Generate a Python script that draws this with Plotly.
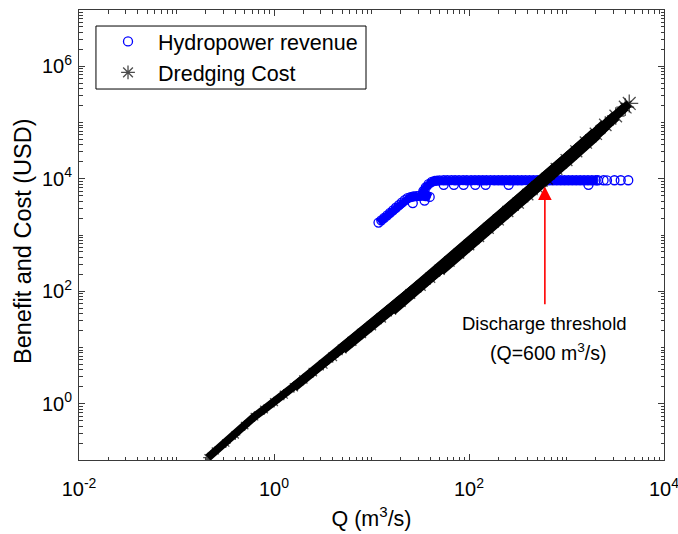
import math
import numpy as np
import plotly.graph_objects as go

# ---- Dredging cost against discharge ----
dredge_q = [0.21, 0.25, 0.32, 0.4, 0.5, 0.63, 0.79, 1.0, 1.26, 1.6, 2.0, 2.5, 3.2, 4.0,
            5.0, 6.3, 7.9, 10, 12.6, 16, 20, 25, 32, 40, 50, 63, 79, 100, 126, 158, 200,
            250, 320, 400, 500, 630, 790, 1000, 1260, 1580, 2000, 2500, 3200, 4000, 4400]
dredge_cost = [0.11, 0.145, 0.20, 0.28, 0.41, 0.59, 0.79, 1.07, 1.45, 1.97, 2.7, 3.66,
               5.0, 6.85, 9.4, 12.9, 17.7, 24.4, 33.7, 46.6, 64.6, 89.6, 125, 174, 242,
               338, 473, 664, 932, 1310, 1850, 2610, 3690, 5240, 7080, 10000, 15000,
               21500, 30700, 44000, 63000, 90700, 130500, 188000, 218000]

# ---- Hydropower revenue against discharge (main band) ----
hydro_q = [11.8, 12.6, 13.5, 14.5, 15.5, 16.6, 17.8, 19.1, 20.4, 21.9, 23.4, 25.1, 26.9,
           28.8, 30.9, 33.1, 36.0, 39.5, 34.0, 36.0, 38.5, 41.5, 44.5,
           47, 50, 55, 60, 66, 72, 79, 87, 95, 105, 115, 126, 138, 151, 166, 182, 200,
           219, 240, 263, 288, 316, 347, 380, 417, 457, 501, 550, 603, 661, 724, 794,
           871, 955, 1047, 1148, 1259, 1380, 1514, 1660, 1820, 1995, 2100]
hydro_rev = [1660, 1820, 2020, 2240, 2480, 2750, 3050, 3390, 3760, 4170, 4520, 4730, 4840,
             4900, 4950, 5010, 4900, 4750, 6000, 7000, 8000, 8800, 9200,
             9250, 9350, 9400, 9400, 9450, 9400, 9400, 9450, 9400, 9400, 9450, 9400, 9400,
             9400, 9450, 9400, 9400, 9400, 9450, 9400, 9400, 9400, 9400, 9450, 9400, 9400,
             9400, 9400, 9400, 9400, 9400, 9400, 9400, 9400, 9400, 9400, 9400, 9400, 9400,
             9400, 9400, 9400, 9400]

# sparse high-flow records
hydro_tail_q = [2400, 2600, 3100, 3600, 4300]
hydro_tail_rev = [9400, 9350, 9400, 9400, 9400]

# records lying just below the band
hydro_low_q = [26.5, 35.0, 55, 70, 88, 116, 148, 255, 1680]
hydro_low_rev = [3700, 4100, 7800, 7800, 7800, 7800, 7800, 7800, 7800]

# discharge threshold where cost overtakes revenue
threshold_q = 600

# labelled decades on each axis
x_tick_vals = [1e-2, 1e0, 1e2, 1e4]
x_tick_text = ["10<sup>-2</sup>", "10<sup>0</sup>", "10<sup>2</sup>", "10<sup>4</sup>"]
y_tick_vals = [1e0, 1e2, 1e4, 1e6]
y_tick_text = ["10<sup>0</sup>", "10<sup>2</sup>", "10<sup>4</sup>", "10<sup>6</sup>"]

FONT = "Liberation Sans, Arial, Helvetica, sans-serif"
AXIS_COLOR = "#3a3a3a"


def minor_ticks(lo_exp, hi_exp, major):
    vals = []
    for e in range(lo_exp, hi_exp + 1):
        for m in range(1, 10):
            v = m * 10.0 ** e
            if all(abs(math.log10(v) - math.log10(t)) > 1e-9 for t in major):
                vals.append(v)
    return vals


fig = go.Figure()

all_hq = hydro_q + hydro_tail_q + hydro_low_q
all_hr = hydro_rev + hydro_tail_rev + hydro_low_rev

# solid core of the dense revenue band
fig.add_trace(go.Scatter(
    x=hydro_q, y=hydro_rev, mode="lines",
    line=dict(color="#0000ff", width=8), showlegend=False, hoverinfo="skip"))
fig.add_trace(go.Scatter(
    x=all_hq, y=all_hr, mode="markers", name="Hydropower revenue",
    marker=dict(symbol="circle-open", size=9, color="#0000ff",
                line=dict(color="#0000ff", width=1.3))))

# solid core of the dredging cost band: the scatter widens at higher discharge
core_layers = [(0, None, 8), (9, -1, 9.5), (14, -2, 11), (19, -3, 12), (24, -4, 13)]
for start, stop, width in core_layers:
    fig.add_trace(go.Scatter(
        x=dredge_q[start:stop], y=dredge_cost[start:stop], mode="lines",
        line=dict(color="black", width=width), showlegend=False, hoverinfo="skip"))
n = len(dredge_q)
fig.add_trace(go.Scatter(
    x=dredge_q, y=dredge_cost, mode="markers", name="Dredging Cost",
    marker=dict(symbol="asterisk-open", size=list(np.linspace(8, 15, n)), color="black",
                line=dict(color="black", width=1.3))))

# arrow marking the discharge threshold
lx = math.log10(threshold_q)
fig.add_annotation(
    x=lx, y=math.log10(7300), ax=lx, ay=math.log10(55),
    xref="x", yref="y", axref="x", ayref="y",
    showarrow=True, arrowhead=2, arrowsize=1.7, arrowwidth=1.6,
    arrowcolor="#ff0000", text="", standoff=0)
fig.add_annotation(
    x=lx, y=0.304, xref="x", yref="paper", showarrow=False,
    text="Discharge threshold", font=dict(size=18.5, color="black", family=FONT),
    xanchor="center", yanchor="middle")
fig.add_annotation(
    x=lx, y=0.240, xref="x", yref="paper", showarrow=False, xshift=4,
    text=f"(Q={threshold_q} m<sup>3</sup>/s)", font=dict(size=19.5, color="black", family=FONT),
    xanchor="center", yanchor="middle")

# y-axis title
fig.add_annotation(
    x=-0.0957, y=0.4867, xref="paper", yref="paper", showarrow=False,
    text="Benefit and Cost (USD)", textangle=-90,
    font=dict(size=23.5, color="black", family=FONT),
    xanchor="center", yanchor="middle")

# frame around the legend
fig.add_shape(type="rect", xref="paper", yref="paper",
              x0=0.029, x1=0.4906, y0=0.8244, y1=0.9644,
              line=dict(color="black", width=1), fillcolor="rgba(0,0,0,0)", layer="above")

axis_common = dict(
    type="log", showgrid=False, zeroline=False, automargin=False,
    showline=True, linecolor=AXIS_COLOR, linewidth=1, mirror="ticks",
    ticks="inside", ticklen=6, tickwidth=1, tickcolor=AXIS_COLOR,
    tickmode="array", tickfont=dict(size=20, color="black", family=FONT),
    ticklabeloverflow="allow",
)

fig.update_xaxes(
    **axis_common, range=[-2, 4], tickvals=x_tick_vals, ticktext=x_tick_text,
    ticklabelstandoff=11,
    minor=dict(tickmode="array", tickvals=minor_ticks(-2, 3, x_tick_vals),
               ticks="inside", ticklen=3.5, tickcolor=AXIS_COLOR, tickwidth=1),
    title=dict(text="Q (m<sup>3</sup>/s)", font=dict(size=21.5, color="black", family=FONT),
               standoff=11),
)
fig.update_yaxes(
    **axis_common, range=[-1, 7], tickvals=y_tick_vals, ticktext=y_tick_text,
    ticklabelstandoff=2,
    minor=dict(tickmode="array", tickvals=minor_ticks(-1, 6, y_tick_vals),
               ticks="inside", ticklen=3.5, tickcolor=AXIS_COLOR, tickwidth=1),
)

fig.update_layout(
    width=678, height=534,
    margin=dict(l=79, r=14, t=10, b=74),
    paper_bgcolor="white", plot_bgcolor="white",
    font=dict(family=FONT, color="black"),
    showlegend=True,
    legend=dict(x=0.0325, y=0.9756, xanchor="left", yanchor="top",
                borderwidth=0, bgcolor="rgba(0,0,0,0)",
                font=dict(size=21.5, color="black", family=FONT),
                itemwidth=50, tracegroupgap=0),
)

fig.write_html("out.html")
